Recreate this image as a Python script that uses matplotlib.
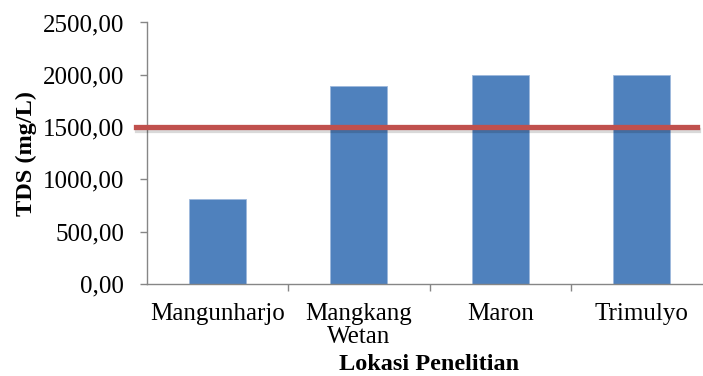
import matplotlib.pyplot as plt
import matplotlib.patheffects as pe
from matplotlib.ticker import FuncFormatter

# data
locations = ["Mangunharjo", "Mangkang\nWetan", "Maron", "Trimulyo"]
tds = [810, 1890, 2000, 2000]
limit = 1500  # quality standard line
yticks = [0, 500, 1000, 1500, 2000, 2500]

plt.rcParams["font.family"] = ["Liberation Serif", "DejaVu Serif"]

fig = plt.figure(figsize=(7.03, 3.76), dpi=100)
# plot area runs a little past the right edge, as in the original
ax = fig.add_axes([0.2085, 0.2447, 0.805, 0.6955])

x = list(range(len(locations)))
ax.bar(x, tds, width=0.4, color="#4F81BD", edgecolor="#9DB8DC",
       linewidth=0.6, zorder=2)

ax.axhline(limit, xmin=-0.019, xmax=0.973, color="#C0504D", linewidth=3.8,
           clip_on=False, zorder=3,
           path_effects=[pe.SimpleLineShadow(offset=(0.5, -2), shadow_color="black",
                                             alpha=0.15),
                         pe.Normal()])

ax.set_xlim(-0.5, 3.5)
ax.set_ylim(0, 2500)
ax.set_yticks(yticks)
ax.yaxis.set_major_formatter(FuncFormatter(lambda v, p: f"{v:.2f}".replace(".", ",")))

ax.set_xticks(x)
ax.set_xticklabels(locations, linespacing=1.05)
ax.set_xticks([0.5, 1.5, 2.5], minor=True)
ax.tick_params(axis="x", which="major", length=0, pad=14, labelsize=18)
ax.tick_params(axis="x", which="minor", length=5, color="#868686", width=1)
ax.tick_params(axis="y", length=5, color="#868686", width=1, pad=11, labelsize=18)

for s in ["top", "right"]:
    ax.spines[s].set_visible(False)
for s in ["left", "bottom"]:
    ax.spines[s].set_color("#868686")
    ax.spines[s].set_linewidth(1)

ax.set_ylabel("TDS (mg/L)", fontsize=17.5, fontweight="bold", labelpad=4)
ax.set_xlabel("Lokasi Penelitian", fontsize=17.5, fontweight="bold", labelpad=4)

fig.savefig("out.png", dpi=100)
